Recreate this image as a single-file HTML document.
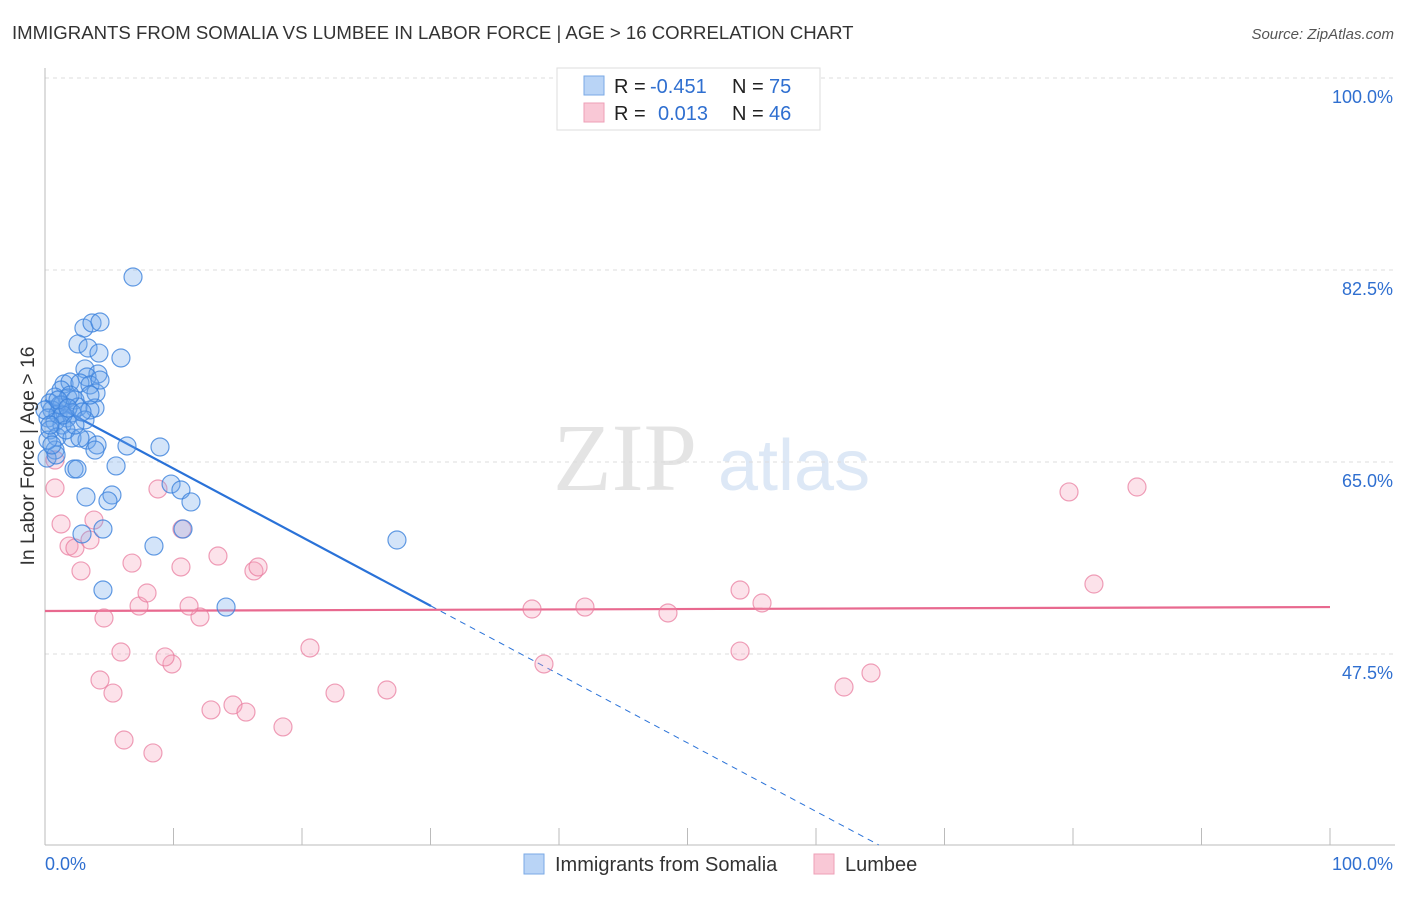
<!DOCTYPE html>
<html><head><meta charset="utf-8"><style>
body{margin:0;background:#fff;font-family:"Liberation Sans",sans-serif}
svg text{font-family:"Liberation Sans",sans-serif}
</style></head><body>
<svg id="chart" width="1406" height="892">
<text x="12" y="39" font-size="18.6" fill="#333">IMMIGRANTS FROM SOMALIA VS LUMBEE IN LABOR FORCE | AGE &gt; 16 CORRELATION CHART</text>
<text x="1394" y="39" font-size="15" fill="#555" font-style="italic" text-anchor="end">Source: ZipAtlas.com</text>
<g>
<text x="553" y="490" font-size="96" fill="#e4e4e4" font-family="Liberation Serif" style="font-family:'Liberation Serif',serif">ZIP</text>
<text x="718" y="490" font-size="72" fill="#dde8f6">atlas</text>
</g>
<g id="grid"></g>
<g id="axes"></g>
<g id="trend"></g>
<g id="pts"></g>
<g>
<rect x="557" y="68" width="263" height="62" fill="#fff" stroke="#ddd"/>
<rect x="584" y="76" width="20" height="19" fill="#b9d4f6" stroke="#7aa9e6"/>
<rect x="584" y="103" width="20" height="19" fill="#f9c8d6" stroke="#ee9fb7"/>
<text x="614" y="93" font-size="20" fill="#222">R = </text><text x="650" y="93" font-size="20" fill="#2f6fd0">-0.451</text>
<text x="732" y="93" font-size="20" fill="#222">N = </text><text x="769" y="93" font-size="20" fill="#2f6fd0">75</text>
<text x="614" y="120" font-size="20" fill="#222">R = </text><text x="658" y="120" font-size="20" fill="#2f6fd0">0.013</text>
<text x="732" y="120" font-size="20" fill="#222">N = </text><text x="769" y="120" font-size="20" fill="#2f6fd0">46</text>
</g>
<g>
<rect x="524" y="854" width="20" height="20" fill="#b9d4f6" stroke="#7aa9e6"/>
<text x="555" y="871" font-size="20" fill="#333">Immigrants from Somalia</text>
<rect x="814" y="854" width="20" height="20" fill="#f9c8d6" stroke="#ee9fb7"/>
<text x="845" y="871" font-size="20" fill="#333">Lumbee</text>
</g>
<text transform="translate(34,456) rotate(-90)" font-size="19.4" fill="#333" text-anchor="middle">In Labor Force | Age &gt; 16</text>
</svg>
<script>
const yTicks=[100,82.5,65,47.5];
const yTickLabels=["100.0%","82.5%","65.0%","47.5%"];
const xTicks=[0,10,20,30,40,50,60,70,80,90,100];
const blueX=[6.85,3.03,3.66,4.28,2.57,3.35,4.2,5.91,3.11,4.12,3.27,1.48,1.95,2.72,3.5,3.97,1.25,0.78,1.79,2.33,0.39,1.32,2.57,3.89,3.5,0.54,1.01,1.71,2.1,0.23,0.78,1.32,0.39,0.93,2.1,3.27,4.05,6.38,8.95,3.89,0.78,0.16,0.86,2.26,2.49,5.53,9.81,10.58,11.36,3.19,5.21,4.9,4.51,2.88,8.48,10.74,27.39,4.51,14.09,1.17,1.95,3.11,0,1.63,2.72,0.23,0.54,4.28,1.4,3.5,2.33,1.01,1.79,2.88,0.39];
const blueY=[81.86,77.21,77.67,77.76,75.76,75.39,74.93,74.48,73.48,73.02,72.75,72.11,72.29,72.2,72.02,71.29,71.56,70.92,70.83,70.65,70.38,70.2,70.01,69.92,69.74,69.74,69.37,69.01,69.47,69.01,68.65,68.37,67.92,67.28,67.19,67.0,66.55,66.46,66.37,66.09,66.09,65.36,65.64,64.36,64.36,64.64,62.99,62.45,61.36,61.81,61.99,61.45,58.89,58.44,57.34,58.89,57.89,53.33,51.78,70.2,71.1,68.83,69.74,67.92,67.19,67.0,66.55,72.47,69.28,71.1,68.37,70.65,69.92,69.56,68.37];
const pinkX=[0.78,1.25,1.87,2.33,2.8,3.81,3.5,4.59,5.91,4.28,5.29,6.15,8.4,6.77,7.32,7.94,8.79,9.88,9.34,10.66,10.58,12.06,11.21,13.46,12.92,14.63,15.64,16.26,16.58,18.52,20.62,22.57,26.61,37.9,38.83,42.02,48.48,54.09,54.09,55.8,62.18,64.28,79.69,81.63,84.98,0.78];
const pinkY=[62.63,59.35,57.34,57.16,55.07,59.71,57.89,50.78,47.68,45.13,43.94,39.66,38.48,55.79,51.87,53.06,62.54,46.59,47.23,58.89,55.43,50.87,51.87,56.43,42.4,42.85,42.21,55.07,55.43,40.85,48.05,43.94,44.22,51.6,46.59,51.78,51.24,53.33,47.77,52.15,44.49,45.77,62.27,53.88,62.72,65.18];
const blueTrend=[70.65,-0.625];
const pinkTrend=[51.42,0.0036];
const NS="http://www.w3.org/2000/svg";
const X=v=>45+v*12.85, Y=v=>78+(100-v)/17.5*192;
function mk(t,a,p){const e=document.createElementNS(NS,t);for(const k in a)e.setAttribute(k,a[k]);p.appendChild(e);return e;}
const grid=document.getElementById('grid'),axes=document.getElementById('axes'),tr=document.getElementById('trend'),pts=document.getElementById('pts');
yTicks.forEach((v,i)=>{
 const l=mk('line',{x1:45,x2:1395,y1:Y(v),y2:Y(v),stroke:'#ddd','stroke-dasharray':'4,4'},grid);
 
 
 const t=mk('text',{x:1393,y:Y(v)+25,'font-size':18,fill:'#2f6fd0','text-anchor':'end'},axes);
 t.textContent=yTickLabels[i];
 
 
});
const la=mk('line',{x1:45,x2:45,y1:68,y2:845,stroke:'#bbb'},axes);


const ba=mk('line',{x1:45,x2:1395,y1:845,y2:845,stroke:'#bbb'},axes);


xTicks.forEach(v=>{
 const t=mk('line',{x1:X(v),x2:X(v),y1:828,y2:845,stroke:'#bbb'},axes);
 
 
});
[["0.0%",45,'start'],["100.0%",1393,'end']].forEach(d=>{
 const t=mk('text',{x:d[1],y:870,'font-size':18,fill:'#2f6fd0','text-anchor':d[2]},axes);
 t.textContent=d[0];
 
 
});
function draw(xs,ys,fill,stroke,name){xs.forEach((x,i)=>{
 const c=mk('circle',{cx:X(x),cy:Y(ys[i]),r:9,fill:fill,stroke:stroke,'stroke-width':1.2},pts);
 
 
});}
draw(pinkX,pinkY,'rgba(244,160,186,0.3)','rgba(232,120,155,0.7)','lumbee-point');
draw(blueX,blueY,'rgba(110,165,235,0.3)','rgba(60,130,220,0.8)','somalia-point');
const bEnd=30.04, bZero=(blueTrend[0]-30.1)/-blueTrend[1];
const b1=mk('line',{x1:X(0),y1:Y(blueTrend[0]),x2:X(bEnd),y2:Y(blueTrend[0]+blueTrend[1]*bEnd),stroke:'#2a72d8','stroke-width':2.2},tr);


const b2=mk('line',{x1:X(bEnd),y1:Y(blueTrend[0]+blueTrend[1]*bEnd),x2:X(bZero),y2:Y(30.1),stroke:'#2a72d8','stroke-width':1,'stroke-dasharray':'6,5'},tr);


const p1=mk('line',{x1:X(0),y1:Y(pinkTrend[0]),x2:X(100),y2:Y(pinkTrend[0]+pinkTrend[1]*100),stroke:'#e8698f','stroke-width':2.2},tr);


</script>
</body></html>
